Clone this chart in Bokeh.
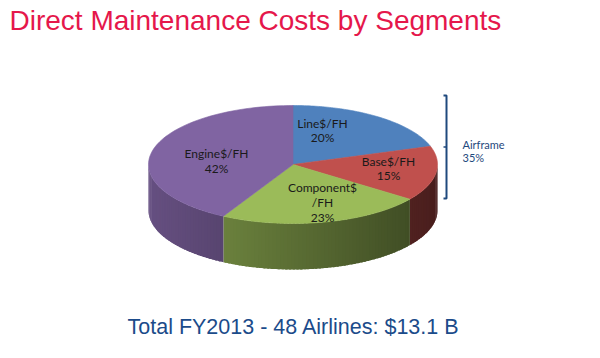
import numpy as np
from bokeh.plotting import figure
from bokeh.models import Range1d
from bokeh.core.properties import value
from bokeh.embed import file_html
from bokeh.resources import INLINE

# ---- data ----
segments = ["Line$/FH", "Base$/FH", "Component$\n/FH", "Engine$/FH"]
shares = [20, 15, 23, 42]
group_name = "Airframe"
group_members = [0, 1]
title_text = "Direct Maintenance Costs by Segments"
footer_text = "Total FY2013 - 48 Airlines: $13.1 B"

# ---- styles / layout ----
slice_colors = ["#4F81BD", "#C0504D", "#9BBB59", "#8064A2"]
label_pos = [(322, 130), (388, 168), (322, 202), (216, 160.5)]
cx, cy, rx, ry, depth = 292.5, 164.0, 144.5, 59.0, 46.0

W, H = 584, 342
p = figure(width=W, height=H, x_range=Range1d(0, W), y_range=Range1d(H, 0),
           output_backend="svg", toolbar_location=None, min_border=0,
           x_axis_location=None, y_axis_location=None)
p.grid.visible = False
p.outline_line_color = None
p.background_fill_color = "white"
p.border_fill_color = "white"


def pt(theta_deg, dy=0.0):
    t = np.radians(theta_deg)
    return cx + rx * np.sin(t), cy - ry * np.cos(t) + dy


def hex_to_rgb(h):
    h = h.lstrip("#")
    return tuple(int(h[i:i + 2], 16) for i in (0, 2, 4))


def shade(h, f):
    r, g, b = hex_to_rgb(h)
    return "#%02x%02x%02x" % (int(r * f), int(g * f), int(b * f))


total = float(sum(shares))
bounds = np.concatenate([[0.0], np.cumsum(shares) / total * 360.0])

# ---- sides (front half only), drawn as overlapping strips ----
sx, sy, sc = [], [], []
for i, col in enumerate(slice_colors):
    a0, a1 = max(bounds[i], 90.0), min(bounds[i + 1], 270.0)
    if a1 <= a0:
        continue
    n = max(2, int(np.ceil((a1 - a0) / 1.5)))
    edges = np.linspace(a0, a1, n + 1)
    for e0, e1 in zip(edges[:-1], edges[1:]):
        e1x = min(e1 + 0.9, a1)
        th = np.linspace(e0, e1x, 4)
        xs, ys = pt(th)
        xm, _ = pt((e0 + e1) / 2)
        f = 0.8 - 0.42 * (xm - (cx - rx)) / (2 * rx)
        sx.append(list(xs) + list(xs[::-1]))
        sy.append(list(ys) + list(ys[::-1] + depth))
        sc.append(shade(col, f))
p.patches(sx, sy, fill_color=sc, line_color=None)

# ---- top faces ----
tx, ty = [], []
for i in range(len(shares)):
    th = np.linspace(bounds[i], bounds[i + 1], 80)
    xs, ys = pt(th)
    tx.append([cx] + list(xs))
    ty.append([cy] + list(ys))
p.patches(tx, ty, fill_color=slice_colors, line_color=slice_colors, line_width=0.6)

# ---- slice labels ----
labels = [f"{s}\n{v}%" for s, v in zip(segments, shares)]
p.text(x=[q[0] for q in label_pos], y=[q[1] for q in label_pos], text=labels,
       text_font=value("Lato"), text_font_size="12px", text_color="#1a1a1a",
       text_align="center", text_baseline="middle", text_line_height=0.97)

# ---- bracket + group label ----
bc = "#1F497D"
bx, btop, bbot = 446, 95, 198
bmid = (btop + bbot) / 2
p.line([bx - 3, bx, bx, bx - 3], [btop, btop, bbot, bbot], line_color=bc, line_width=2)
p.line([bx, bx - 3], [bmid, bmid], line_color=bc, line_width=1.5)
group_share = sum(shares[k] for k in group_members)
p.text(x=[462], y=[150.5], text=[f"{group_name}\n{group_share}%"],
       text_font=value("Lato"), text_font_size="11px", text_color=bc,
       text_align="left", text_baseline="middle", text_line_height=0.97)

# ---- title & footer ----
p.text(x=[9], y=[20], text=[title_text], text_font=value("Liberation Sans"),
       text_font_size="28px", text_color="#E5174B", text_align="left",
       text_baseline="middle")
p.text(x=[127], y=[326], text=[footer_text], text_font=value("Liberation Sans"),
       text_font_size="21.5px", text_color="#1B4B8A", text_align="left",
       text_baseline="middle")

open("out.html", "w").write(file_html(p, INLINE))
